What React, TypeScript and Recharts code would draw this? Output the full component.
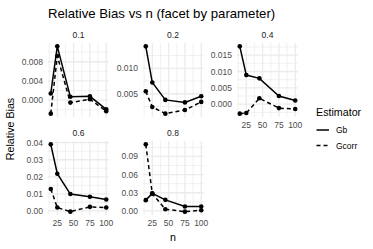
import React from 'react';
import { LineChart, Line, XAxis, YAxis, CartesianGrid } from 'recharts';

// ---- data ----
const nValues = [15, 25, 45, 75, 100];
const xTicks = [25, 50, 75, 100];
const xMinor = [12.5, 37.5, 62.5, 87.5];

const gb01 = [0.0014, 0.0112, 0.0007, 0.0008, -0.0019];
const gcorr01 = [-0.0028, 0.0092, -0.0005, 0.0002, -0.0023];
const ticks01 = [0, 0.004, 0.008];
const labels01 = ['0.000', '0.004', '0.008'];
const minor01 = [-0.002, 0.002, 0.006, 0.01];

const gb02 = [0.0143, 0.0072, 0.0038, 0.0033, 0.0045];
const gcorr02 = [0.0055, 0.0024, 0.0011, 0.0018, 0.0034];
const ticks02 = [0.005, 0.01];
const labels02 = ['0.005', '0.010'];
const minor02 = [0.0025, 0.0075, 0.0125];

const gb04 = [0.0177, 0.0089, 0.0079, 0.0025, 0.0011];
const gcorr04 = [-0.0029, -0.0027, 0.0018, -0.0012, -0.0015];
const ticks04 = [0, 0.005, 0.01, 0.015];
const labels04 = ['0.000', '0.005', '0.010', '0.015'];
const minor04 = [-0.0025, 0.0025, 0.0075, 0.0125, 0.0175];

const gb06 = [0.0390, 0.0218, 0.0099, 0.0083, 0.0067];
const gcorr06 = [0.0129, 0.0020, -0.0004, 0.0024, 0.0020];
const ticks06 = [0, 0.01, 0.02, 0.03, 0.04];
const labels06 = ['0.00', '0.01', '0.02', '0.03', '0.04'];
const minor06 = [0.005, 0.015, 0.025, 0.035];

const gb08 = [0.0178, 0.0290, 0.0183, 0.0072, 0.0072];
const gcorr08 = [0.110, 0.0285, 0.0028, -0.0012, 0.0012];
const ticks08 = [0, 0.03, 0.06, 0.09];
const labels08 = ['0.00', '0.03', '0.06', '0.09'];
const minor08 = [0.015, 0.045, 0.075, 0.105];

const panelLabels = ['0.1', '0.2', '0.4', '0.6', '0.8'];
const seriesNames = ['Gb', 'Gcorr'];

// ---- layout ----
const FONT = 'Liberation Sans, Arial, Helvetica, sans-serif';
const PANEL_W = 61;
const PANEL_H = 74;
const Y_AXIS_W = 40;
const X_AXIS_H = 16;
const PAD_T = 8;
const PAD_R = 12;
const COL_LEFT = [48, 142.5, 237];
const ROW_TOP = [42.8, 140.8];
const TICK_COLOR = '#4D4D4D';
const GRID = '#EBEBEB';

type PanelProps = {
  gb: number[];
  gcorr: number[];
  yTicks: number[];
  yLabels: string[];
  yMinor: number[];
  showX: boolean;
  left: number;
  top: number;
};

function Panel({ gb, gcorr, yTicks, yLabels, yMinor, showX, left, top }: PanelProps) {
  const data = nValues.map((n, i) => ({ n, gb: gb[i], gcorr: gcorr[i] }));
  const all = [...gb, ...gcorr];
  const lo = Math.min(...all);
  const hi = Math.max(...all);
  const pad = (hi - lo) * 0.05;
  const yDomain: [number, number] = [lo - pad, hi + pad];
  const xLo = Math.min(...nValues);
  const xHi = Math.max(...nValues);
  const xPad = (xHi - xLo) * 0.05;
  const xDomain: [number, number] = [xLo - xPad, xHi + xPad];
  const fmt = (v: number) => {
    const idx = yTicks.findIndex((t) => Math.abs(t - v) < 1e-9);
    return idx >= 0 ? yLabels[idx] : String(v);
  };
  const yMinorIn = yMinor.filter((v) => v > yDomain[0] && v < yDomain[1]);
  const xMinorIn = xMinor.filter((v) => v > xDomain[0] && v < xDomain[1]);
  return (
    <div style={{ position: 'absolute', left: left - Y_AXIS_W, top: top - PAD_T }}>
      <LineChart
        width={Y_AXIS_W + PANEL_W + PAD_R}
        height={PAD_T + PANEL_H + (showX ? X_AXIS_H : 0)}
        data={data}
        margin={{ top: PAD_T, right: PAD_R, bottom: 0, left: 0 }}
      >
        <CartesianGrid
          stroke={GRID}
          strokeWidth={0.7}
          horizontalValues={yMinorIn}
          verticalValues={xMinorIn}
        />
        <CartesianGrid
          stroke={GRID}
          strokeWidth={1.3}
          horizontalValues={yTicks}
          verticalValues={xTicks}
        />
        <XAxis
          dataKey="n"
          type="number"
          domain={xDomain}
          ticks={xTicks}
          hide={!showX}
          height={X_AXIS_H}
          axisLine={false}
          tickLine={false}
          tickSize={0}
          tickMargin={5}
          allowDataOverflow
          interval={0}
          tick={{ fill: TICK_COLOR, fontSize: 8.5, fontFamily: FONT }}
        />
        <YAxis
          type="number"
          domain={yDomain}
          ticks={yTicks}
          width={Y_AXIS_W}
          axisLine={false}
          tickLine={false}
          tickSize={0}
          tickMargin={5}
          allowDataOverflow
          interval={0}
          tickFormatter={fmt}
          tick={{ fill: TICK_COLOR, fontSize: 8.5, fontFamily: FONT }}
        />
        <Line
          dataKey="gb"
          stroke="#000"
          strokeWidth={1.5}
          dot={{ r: 2.3, fill: '#000', stroke: '#000', strokeWidth: 0 }}
          isAnimationActive={false}
        />
        <Line
          dataKey="gcorr"
          stroke="#000"
          strokeWidth={1.5}
          strokeDasharray="4 3"
          dot={{ r: 2.3, fill: '#000', stroke: '#000', strokeWidth: 0, strokeDasharray: '0' }}
          isAnimationActive={false}
        />
      </LineChart>
    </div>
  );
}

export default function App() {
  const panels = [
    { gb: gb01, gcorr: gcorr01, yTicks: ticks01, yLabels: labels01, yMinor: minor01, showX: false, col: 0, row: 0 },
    { gb: gb02, gcorr: gcorr02, yTicks: ticks02, yLabels: labels02, yMinor: minor02, showX: false, col: 1, row: 0 },
    { gb: gb04, gcorr: gcorr04, yTicks: ticks04, yLabels: labels04, yMinor: minor04, showX: true, col: 2, row: 0 },
    { gb: gb06, gcorr: gcorr06, yTicks: ticks06, yLabels: labels06, yMinor: minor06, showX: true, col: 0, row: 1 },
    { gb: gb08, gcorr: gcorr08, yTicks: ticks08, yLabels: labels08, yMinor: minor08, showX: true, col: 1, row: 1 },
  ];
  return (
    <div
      style={{
        position: 'absolute',
        left: 0,
        top: 0,
        width: 373,
        height: 249,
        background: '#fff',
        overflow: 'hidden',
        fontFamily: FONT,
      }}
    >
      {panels.map((p, i) => (
        <Panel
          key={i}
          gb={p.gb}
          gcorr={p.gcorr}
          yTicks={p.yTicks}
          yLabels={p.yLabels}
          yMinor={p.yMinor}
          showX={p.showX}
          left={COL_LEFT[p.col]}
          top={ROW_TOP[p.row]}
        />
      ))}
      <svg
        width={373}
        height={249}
        style={{ position: 'absolute', left: 0, top: 0, pointerEvents: 'none' }}
        fontFamily={FONT}
      >
        <text x={48} y={13.3} fontSize={13.2} fill="#000" dominantBaseline="central">
          Relative Bias vs n (facet by parameter)
        </text>
        {panels.map((p, i) => (
          <text
            key={i}
            x={COL_LEFT[p.col] + PANEL_W / 2}
            y={ROW_TOP[p.row] - 8}
            fontSize={8.5}
            fill="#1A1A1A"
            textAnchor="middle"
            dominantBaseline="central"
          >
            {panelLabels[i]}
          </text>
        ))}
        <text x={173} y={237} fontSize={10.7} fill="#000" textAnchor="middle" dominantBaseline="central">
          n
        </text>
        <text
          x={9.5}
          y={129}
          fontSize={10.7}
          fill="#000"
          textAnchor="middle"
          dominantBaseline="central"
          transform="rotate(-90 9.5 129)"
        >
          Relative Bias
        </text>
        <text x={316} y={111.7} fontSize={10.7} fill="#000" dominantBaseline="central">
          Estimator
        </text>
        <line x1={316.5} x2={329} y1={130} y2={130} stroke="#000" strokeWidth={1.5} />
        <line x1={316.5} x2={329} y1={145.5} y2={145.5} stroke="#000" strokeWidth={1.5} strokeDasharray="4 3" />
        <text x={336} y={130} fontSize={8.5} fill="#000" dominantBaseline="central">
          {seriesNames[0]}
        </text>
        <text x={336} y={145.5} fontSize={8.5} fill="#000" dominantBaseline="central">
          {seriesNames[1]}
        </text>
      </svg>
    </div>
  );
}
